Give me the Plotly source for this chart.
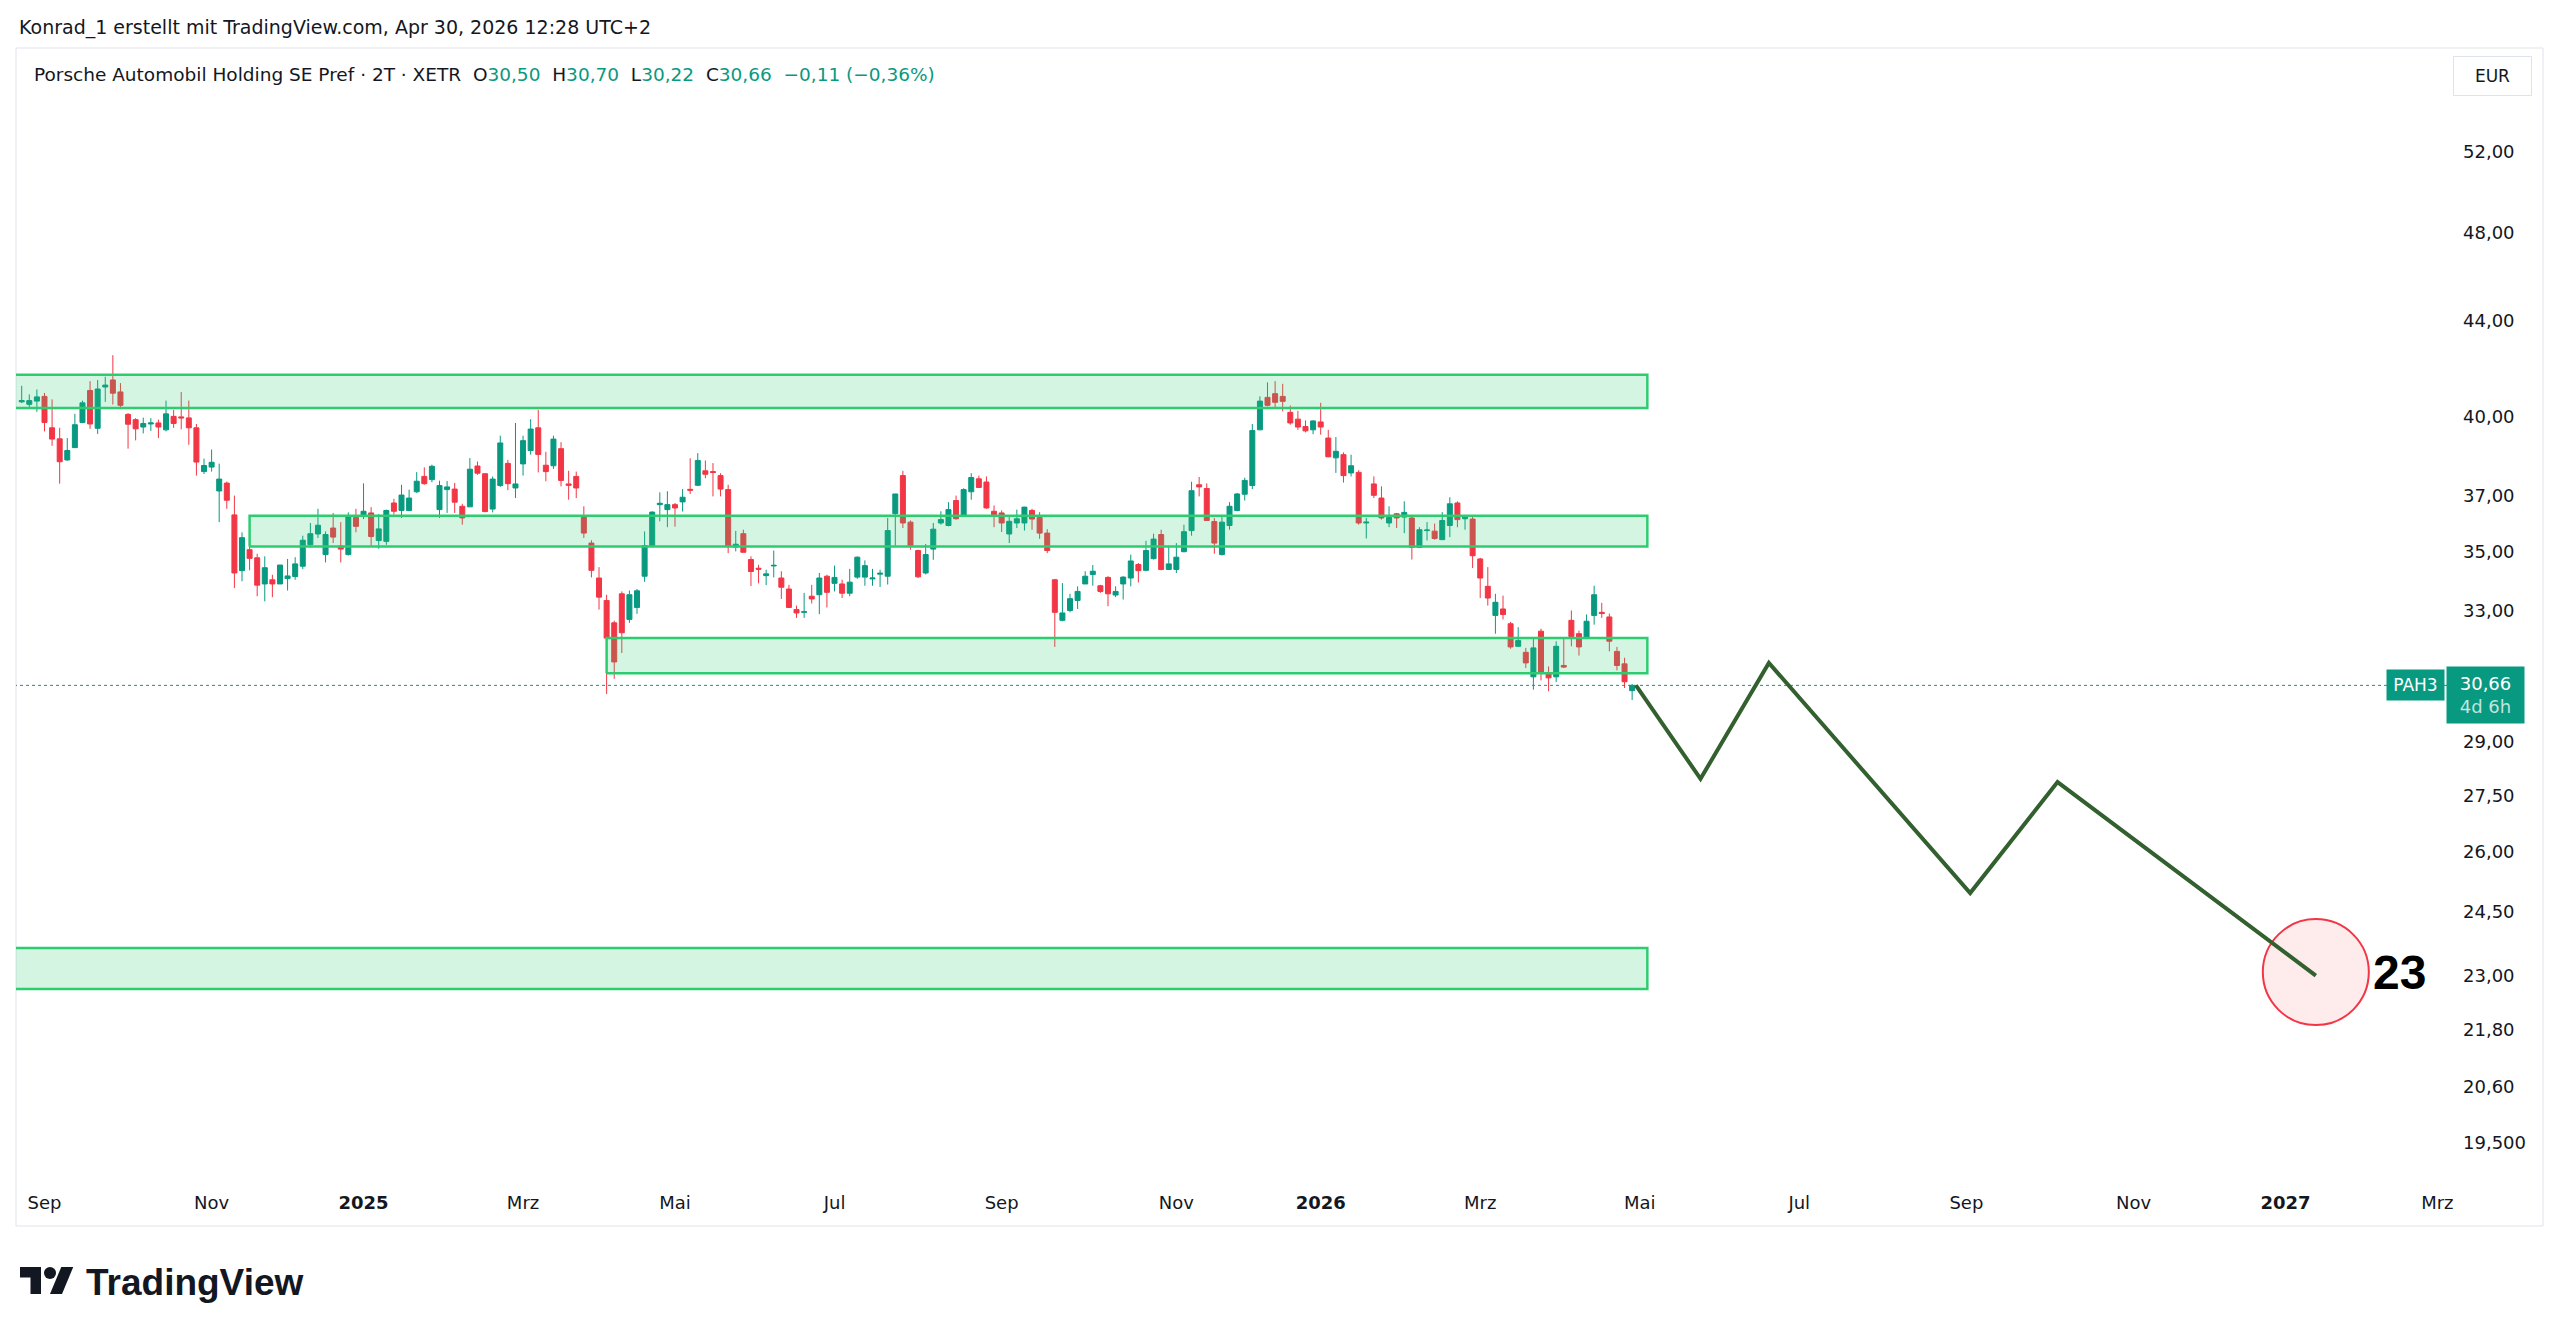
import math
import numpy as np
import pandas as pd
import plotly.graph_objects as go

W, H = 2560, 1334
GREEN = "#089981"
RED = "#F23645"
ZONE_LINE = "rgb(46,204,113)"
ZONE_FILL = "rgba(46,204,113,0.2)"
PATH_COLOR = "#33602F"
TEXT = "#131722"
FONT = "DejaVu Sans"
FONT_BIG = "Liberation Sans"

# ---------------- data ----------------
first_bar_date = "2024-08-22"          # first 2-day bar shown
xetra_holidays = ["2024-12-24", "2024-12-25", "2024-12-26", "2024-12-31",
                  "2025-01-01", "2025-04-18", "2025-04-21", "2025-05-01",
                  "2025-12-24", "2025-12-25", "2025-12-26", "2025-12-31",
                  "2026-01-01", "2026-04-03", "2026-04-06", "2026-05-01",
                  "2026-12-24", "2026-12-25", "2026-12-31",
                  "2027-01-01", "2027-03-26", "2027-03-29"]

opens = [40.60, 40.50, 40.63, 40.82, 39.57, 39.14, 38.33, 38.80, 39.78, 41.06,
         39.55, 41.20, 41.49, 41.00, 40.10, 39.89, 39.60, 39.72, 39.76, 39.49,
         40.02, 40.00, 39.96, 39.57, 37.89, 38.06, 37.17, 37.46, 36.30, 34.35,
         35.07, 34.79, 33.90, 34.04, 33.90, 34.08, 34.15, 34.50, 35.24, 35.62,
         34.90, 35.83, 35.20, 34.90, 36.21, 36.25, 36.37, 35.39, 35.36, 36.73,
         36.46, 36.46, 37.14, 37.71, 37.59, 36.49, 37.22, 37.24, 36.61, 36.59,
         38.10, 37.81, 36.51, 37.37, 38.20, 37.28, 38.18, 38.69, 39.57, 38.13,
         38.11, 38.76, 37.43, 37.71, 36.22, 35.30, 34.10, 33.35, 32.62, 33.57,
         32.73, 33.12, 34.16, 35.18, 36.67, 36.49, 36.67, 36.77, 37.23, 37.38,
         37.92, 37.89, 37.74, 37.22, 35.16, 35.63, 34.73, 34.43, 34.18, 34.51,
         34.10, 33.73, 33.05, 32.96, 33.49, 33.54, 34.16, 33.92, 33.90, 33.59,
         34.13, 34.13, 34.07, 34.23, 34.16, 36.34, 37.74, 36.04, 35.04, 34.27,
         35.09, 36.01, 35.92, 36.82, 36.28, 37.14, 37.62, 37.50, 36.43, 36.37,
         35.62, 36.01, 36.01, 36.46, 36.21, 35.65, 34.04, 32.70, 33.02, 33.35,
         33.90, 34.22, 33.84, 34.12, 33.53, 33.90, 34.10, 34.56, 34.36, 34.76,
         35.60, 34.39, 34.39, 35.00, 35.74, 37.40, 37.26, 36.06, 34.90, 35.92,
         36.46, 37.05, 37.37, 39.49, 40.78, 40.93, 40.82, 40.18, 39.91, 39.62,
         39.49, 39.80, 39.17, 38.41, 38.53, 37.84, 37.86, 36.01, 37.43, 36.91,
         36.01, 36.34, 36.22, 36.19, 35.15, 35.74, 35.72, 35.42, 35.92, 36.73,
         36.16, 36.15, 34.75, 33.82, 32.86, 33.07, 32.59, 31.87, 31.68, 30.92,
         32.35, 31.04, 30.92, 31.27, 32.70, 32.27, 32.13, 32.86, 32.96, 32.81,
         31.71, 31.32, 30.50]
highs = [41.25, 40.90, 41.10, 40.96, 40.70, 39.57, 39.17, 40.12, 40.65, 41.44,
         41.49, 41.62, 42.52, 41.36, 40.15, 39.95, 39.97, 39.95, 39.89, 40.65,
         40.28, 41.00, 40.65, 39.72, 38.38, 38.73, 38.19, 37.52, 37.00, 35.68,
         35.36, 34.93, 34.84, 34.21, 34.54, 34.75, 34.81, 35.56, 36.01, 36.52,
         35.71, 36.37, 36.04, 36.39, 36.52, 37.45, 36.58, 36.33, 36.49, 36.88,
         37.40, 37.22, 37.87, 38.05, 38.15, 37.55, 37.54, 37.47, 36.70, 38.40,
         38.27, 37.83, 37.71, 39.26, 38.33, 39.76, 39.26, 39.91, 40.28, 38.64,
         39.26, 39.01, 37.92, 37.89, 36.61, 35.40, 34.47, 33.54, 32.69, 33.65,
         33.68, 33.73, 35.71, 36.43, 37.12, 37.16, 36.73, 37.24, 38.39, 38.59,
         38.31, 38.21, 37.83, 37.40, 35.73, 35.77, 34.84, 34.55, 34.38, 35.04,
         34.33, 33.87, 33.18, 33.60, 33.87, 34.27, 34.21, 34.52, 34.04, 34.41,
         34.84, 34.70, 34.41, 34.38, 36.19, 37.06, 37.92, 36.10, 35.07, 35.27,
         36.01, 36.43, 36.76, 37.00, 37.27, 37.83, 37.74, 37.71, 36.64, 36.46,
         36.25, 36.49, 36.59, 36.52, 36.40, 35.79, 34.07, 33.93, 33.57, 33.82,
         34.33, 34.54, 33.87, 34.16, 33.82, 34.16, 34.90, 34.61, 35.38, 35.63,
         35.77, 35.21, 35.30, 35.95, 37.51, 37.69, 37.45, 36.19, 36.30, 36.76,
         37.10, 37.66, 39.72, 40.82, 41.39, 41.44, 41.33, 40.45, 40.24, 39.86,
         39.86, 40.56, 39.49, 39.21, 38.62, 38.53, 37.94, 36.19, 37.71, 37.34,
         36.61, 36.37, 36.79, 36.25, 35.86, 36.04, 35.99, 36.40, 36.94, 36.79,
         36.30, 36.25, 34.79, 34.47, 33.57, 33.51, 32.65, 32.48, 31.82, 32.13,
         32.43, 31.24, 32.03, 32.13, 33.02, 32.37, 32.89, 33.84, 33.27, 32.92,
         31.85, 31.51, 30.70]
lows = [40.55, 40.32, 40.20, 39.43, 38.87, 37.44, 38.30, 38.80, 39.75, 39.53,
        39.33, 40.60, 40.49, 40.38, 38.76, 39.08, 39.35, 39.45, 39.17, 39.43,
        39.57, 39.51, 38.91, 37.74, 37.80, 37.89, 36.04, 36.52, 33.76, 33.99,
        34.36, 33.49, 33.32, 33.46, 33.90, 33.68, 34.04, 34.40, 35.15, 35.48,
        34.63, 35.30, 34.63, 34.87, 35.68, 36.15, 35.20, 35.10, 35.24, 36.31,
        36.19, 36.43, 37.10, 37.40, 37.49, 36.19, 36.37, 36.37, 35.95, 36.59,
        37.77, 36.39, 36.39, 37.32, 37.20, 36.91, 37.74, 38.53, 37.86, 37.53,
        37.99, 37.34, 36.85, 36.91, 35.48, 34.12, 33.05, 30.40, 30.86, 31.66,
        32.62, 32.91, 33.97, 35.15, 36.07, 35.86, 35.88, 36.42, 37.06, 37.35,
        37.64, 36.97, 36.97, 34.95, 35.01, 34.98, 33.83, 33.92, 33.86, 34.12,
        33.40, 33.10, 32.78, 32.78, 33.25, 32.90, 33.12, 33.65, 33.43, 33.49,
        34.07, 33.84, 33.84, 33.80, 33.88, 35.21, 35.83, 35.07, 34.10, 34.22,
        34.72, 35.95, 35.89, 36.13, 36.25, 36.85, 37.28, 36.52, 35.86, 35.69,
        35.30, 35.83, 35.74, 35.77, 35.45, 34.95, 31.85, 32.67, 32.96, 33.07,
        33.90, 33.84, 33.60, 33.16, 33.46, 33.38, 33.82, 33.95, 34.33, 34.73,
        34.36, 34.39, 34.27, 34.98, 35.56, 36.97, 36.09, 34.93, 34.87, 35.77,
        36.43, 36.82, 37.24, 39.49, 40.42, 40.39, 40.22, 39.69, 39.49, 39.39,
        39.32, 39.30, 38.43, 37.84, 37.48, 37.71, 35.95, 35.46, 36.91, 36.13,
        35.86, 35.83, 35.65, 34.73, 35.15, 35.39, 35.42, 35.42, 35.51, 35.86,
        35.77, 34.44, 33.43, 33.18, 32.27, 32.73, 31.79, 31.85, 31.19, 30.53,
        30.81, 30.48, 30.76, 31.19, 31.87, 31.58, 32.11, 32.56, 32.78, 31.71,
        31.12, 30.58, 30.22]
closes = [40.65, 40.65, 40.80, 39.78, 39.13, 38.26, 38.69, 39.69, 40.56, 39.72,
          41.12, 41.28, 40.95, 40.46, 39.71, 39.53, 39.74, 39.76, 39.60, 40.12,
          39.74, 39.96, 39.57, 38.25, 38.12, 38.24, 37.61, 36.83, 34.27, 35.49,
          34.77, 33.86, 34.45, 33.90, 34.54, 34.17, 34.58, 35.40, 35.63, 35.93,
          35.60, 35.51, 35.09, 36.27, 35.89, 36.43, 35.53, 35.80, 36.46, 36.43,
          37.02, 36.91, 37.53, 37.44, 38.09, 37.37, 37.32, 36.76, 36.19, 37.98,
          37.83, 36.42, 37.61, 38.98, 37.44, 37.43, 39.07, 39.52, 38.54, 37.89,
          39.13, 37.56, 37.38, 37.28, 35.65, 34.36, 33.46, 32.13, 31.38, 32.30,
          33.54, 33.67, 35.21, 36.40, 36.72, 36.67, 36.55, 36.94, 37.20, 38.31,
          37.79, 37.86, 37.24, 35.18, 35.26, 34.98, 34.32, 34.40, 34.24, 34.53,
          33.79, 33.12, 32.94, 32.98, 33.40, 34.10, 33.62, 34.12, 33.59, 33.96,
          34.81, 34.52, 34.10, 34.26, 35.74, 37.06, 36.01, 35.21, 34.14, 34.90,
          35.79, 36.13, 36.49, 36.16, 37.22, 37.67, 37.30, 36.55, 36.31, 36.01,
          36.07, 36.16, 36.58, 36.15, 35.65, 35.04, 32.96, 32.94, 33.41, 33.65,
          34.16, 34.33, 33.65, 33.57, 33.65, 34.13, 34.68, 34.35, 35.04, 35.44,
          34.39, 34.58, 34.81, 35.70, 37.18, 37.32, 36.10, 35.30, 36.04, 36.61,
          37.06, 37.56, 39.46, 40.63, 40.46, 40.58, 40.62, 39.76, 39.60, 39.45,
          39.84, 39.60, 38.45, 38.66, 37.74, 38.11, 36.01, 36.04, 37.01, 36.19,
          36.21, 36.19, 36.39, 35.15, 35.77, 35.76, 35.46, 36.10, 36.70, 36.13,
          36.21, 34.86, 34.10, 33.43, 33.29, 32.89, 31.85, 32.05, 31.35, 31.82,
          31.04, 30.89, 31.87, 31.22, 32.18, 31.85, 32.67, 33.54, 32.92, 32.03,
          31.27, 30.77, 30.66]

zone_start = ["2024-08-01", "2024-11-14", "2025-04-02", "2024-08-01"]
zone_end = ["2026-05-06", "2026-05-06", "2026-05-06", "2026-05-06"]
zone_low = [40.35, 35.18, 31.03, 22.70]
zone_high = [41.70, 36.27, 32.13, 23.64]

forecast_dates = ["2026-04-30", "2026-05-26", "2026-06-19", "2026-09-02",
                  "2026-10-05", "2027-01-13"]
forecast_values = [30.66, 27.95, 31.35, 24.96, 27.86, 23.00]
target_date = "2027-01-13"
target_value = 23.08
target_label = "23"

month_ticks = ["2024-09-01", "2024-11-01", "2025-01-01", "2025-03-01", "2025-05-01",
               "2025-07-01", "2025-09-01", "2025-11-01", "2026-01-01", "2026-03-01",
               "2026-05-01", "2026-07-01", "2026-09-01", "2026-11-01", "2027-01-01",
               "2027-03-01"]
month_labels = ["Sep", "Nov", "2025", "Mrz", "Mai", "Jul", "Sep", "Nov", "2026",
                "Mrz", "Mai", "Jul", "Sep", "Nov", "2027", "Mrz"]
price_ticks = [52, 48, 44, 40, 37, 35, 33, 31, 29, 27.5, 26, 24.5, 23, 21.8, 20.6, 19.5]
price_tick_labels = ["52,00", "48,00", "44,00", "40,00", "37,00", "35,00", "33,00",
                     "31,00", "29,00", "27,50", "26,00", "24,50", "23,00", "21,80",
                     "20,60", "19,500"]

symbol = "PAH3"
title_text = "Porsche Automobil Holding SE Pref · 2T · XETR"
change_text = "−0,11 (−0,36%)"
countdown = "4d 6h"
credit = "Konrad_1 erstellt mit TradingView.com, Apr 30, 2026 12:28 UTC+2"

# ---------------- trading calendar (bar index axis) ----------------
days = pd.bdate_range("2024-06-03", "2027-06-30")
days = days[~days.isin(pd.to_datetime(xetra_holidays))]
i0 = days.get_loc(pd.Timestamp(first_bar_date))


def to_x(d):
    return (int(days.searchsorted(pd.Timestamp(d))) - i0) / 2.0


bar_dates = days[i0:i0 + 2 * len(opens):2]
bar_x = [to_x(d) for d in bar_dates]

# ---------------- geometry ----------------
PL, PR, PT, PB = 16, 2448, 48, 1168
x_range = [-0.75, 319.4]
y_range = [math.log10(19.01), math.log10(57.64)]


def px(xp):
    return xp / W


def py(yp):
    return 1 - yp / H


def fmt(v):
    return f"{v:.2f}".replace(".", ",")


fig = go.Figure()

# zones
for xs, xe, lo, hi in zip(zone_start, zone_end, zone_low, zone_high):
    a, b = to_x(xs), to_x(xe)
    fig.add_trace(go.Scatter(x=[a, b, b, a, a], y=[lo, lo, hi, hi, lo], mode="lines",
                             fill="toself", fillcolor=ZONE_FILL,
                             line=dict(color=ZONE_LINE, width=2.5),
                             hoverinfo="skip", showlegend=False))

# last price line
fig.add_trace(go.Scatter(x=[x_range[0] - 5, x_range[1] + 5], y=[closes[-1], closes[-1]],
                         mode="lines", line=dict(color=GREEN, width=1, dash="dot"),
                         hoverinfo="skip", showlegend=False))

# candles
fig.add_trace(go.Candlestick(
    x=bar_x, open=opens, high=highs, low=lows, close=closes,
    increasing=dict(line=dict(color=GREEN, width=1), fillcolor=GREEN),
    decreasing=dict(line=dict(color=RED, width=1), fillcolor=RED),
    whiskerwidth=0, showlegend=False, hoverinfo="skip"))

# target circle
tx = to_x(target_date)
fig.add_trace(go.Scatter(x=[tx], y=[target_value], mode="markers",
                         marker=dict(size=106, color="rgba(242,54,69,0.1)",
                                     line=dict(color=RED, width=2)),
                         cliponaxis=False, hoverinfo="skip", showlegend=False))

# forecast path
fig.add_trace(go.Scatter(x=[to_x(d) for d in forecast_dates], y=forecast_values,
                         mode="lines", line=dict(color=PATH_COLOR, width=4),
                         hoverinfo="skip", showlegend=False))

annotations = []
annotations.append(dict(x=tx, y=math.log10(target_value), xref="x", yref="y",
                        text=f"<b>{target_label}</b>", showarrow=False, xanchor="left",
                        yanchor="middle", xshift=55,
                        font=dict(family=FONT_BIG, size=48, color="#000000")))

# header texts
annotations.append(dict(x=px(17), y=py(27), xref="paper", yref="paper", text=credit,
                        showarrow=False, xanchor="left", yanchor="middle",
                        font=dict(family=FONT, size=19, color=TEXT)))
sp = "\u00a0\u00a0"


def teal(s):
    return f"<span style='color:{GREEN}'>{s}</span>"


legend_line = (f"{title_text}{sp}O{teal(fmt(opens[-1]))}{sp}H{teal(fmt(highs[-1]))}"
               f"{sp}L{teal(fmt(lows[-1]))}{sp}C{teal(fmt(closes[-1]))}{sp}{teal(change_text)}")
annotations.append(dict(x=px(32), y=py(75), xref="paper", yref="paper", text=legend_line,
                        showarrow=False, xanchor="left", yanchor="middle",
                        font=dict(family=FONT, size=18.5, color=TEXT)))
annotations.append(dict(x=px(2492), y=py(76), xref="paper", yref="paper", text="EUR",
                        showarrow=False, xanchor="center", yanchor="middle",
                        width=75, height=36, bordercolor="#E0E3EB", borderwidth=1,
                        font=dict(family=FONT, size=17, color=TEXT)))

# price labels
ylast = math.log10(closes[-1])
annotations.append(dict(x=px(2415.5), y=ylast, xref="paper", yref="y", text=symbol,
                        showarrow=False, xanchor="center", yanchor="middle",
                        width=57, height=30, bgcolor=GREEN, borderpad=0,
                        font=dict(family=FONT, size=17, color="#FFFFFF")))
annotations.append(dict(x=px(2485.5), y=ylast, xref="paper", yref="y",
                        text=f"{fmt(closes[-1])}<br><span style='color:rgba(255,255,255,0.75)'>{countdown}</span>",
                        showarrow=False, xanchor="center", yanchor="middle", yshift=-10,
                        width=77, height=56, bgcolor=GREEN, borderpad=0,
                        font=dict(family=FONT, size=18, color="#FFFFFF")))

# footer brand
annotations.append(dict(x=px(84), y=py(1282), xref="paper", yref="paper",
                        text="<b>TradingView</b>", showarrow=False, xanchor="left",
                        yanchor="middle", font=dict(family=FONT_BIG, size=37, color=TEXT)))

shapes = []
# pane border
shapes.append(dict(type="rect", xref="paper", yref="paper", x0=px(16), x1=px(2543),
                   y0=py(1226), y1=py(48), line=dict(color="#E0E3EB", width=1), layer="below"))

# logo
s, ox, oy = 1.5, 20, 1267


def lp(pts):
    return "M " + " L ".join(f"{px(ox + s * a):.6f},{py(oy + s * (b - 4)):.6f}" for a, b in pts) + " Z"


shapes.append(dict(type="path", xref="paper", yref="paper",
                   path=lp([(14, 22), (7, 22), (7, 11), (0, 11), (0, 4), (14, 4)]),
                   fillcolor=TEXT, line=dict(width=0)))
shapes.append(dict(type="path", xref="paper", yref="paper",
                   path=lp([(28, 22), (20, 22), (27.5, 4), (35.5, 4)]),
                   fillcolor=TEXT, line=dict(width=0)))
shapes.append(dict(type="circle", xref="paper", yref="paper",
                   x0=px(ox + s * 16), x1=px(ox + s * 24),
                   y0=py(oy + s * 8), y1=py(oy), fillcolor=TEXT, line=dict(width=0)))

tickvals = [math.floor(to_x(d)) for d in month_ticks]
ticktext = [f"<b>{l}</b>" if l.isdigit() else l for l in month_labels]

fig.update_layout(
    width=W, height=H, autosize=False,
    margin=dict(l=0, r=0, t=0, b=0),
    paper_bgcolor="#FFFFFF", plot_bgcolor="#FFFFFF",
    showlegend=False, hovermode=False,
    boxgap=0.2, boxgroupgap=0.18,
    annotations=annotations, shapes=shapes,
    xaxis=dict(domain=[px(PL), px(PR)], range=x_range, showgrid=False, zeroline=False,
               showline=False, ticks="", tickvals=tickvals, ticktext=ticktext,
               tickfont=dict(family=FONT, size=18, color=TEXT), ticklabelstandoff=22,
               rangeslider=dict(visible=False), automargin=False, fixedrange=True),
    yaxis=dict(domain=[py(PB), py(PT)], type="log", range=y_range, side="right",
               showgrid=False, zeroline=False, showline=False, ticks="",
               tickvals=price_ticks, ticktext=price_tick_labels,
               tickfont=dict(family=FONT, size=18, color=TEXT), ticklabelstandoff=14,
               automargin=False, fixedrange=True),
)

fig.write_html("out.html")
